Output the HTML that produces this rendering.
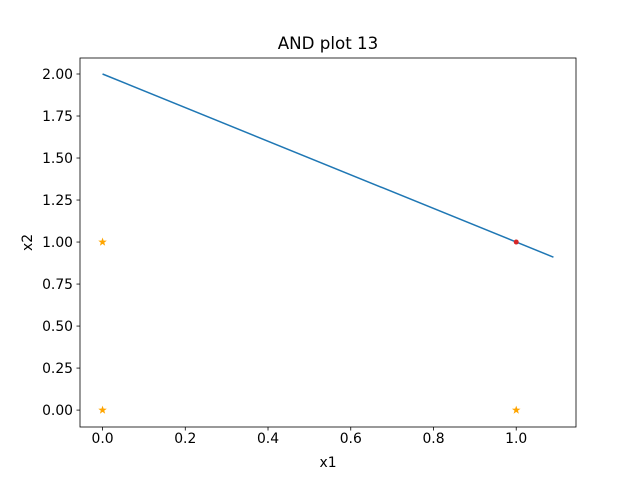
<!DOCTYPE html>
<html><head><meta charset="utf-8"><style>
body{margin:0;background:#fff;}
svg text{font-family:"DejaVu Sans","Liberation Sans",sans-serif;fill:#000;}
</style></head><body>
<svg id="chart" width="640" height="480" xmlns="http://www.w3.org/2000/svg">
<rect width="640" height="480" fill="#fff"/>
<g id="plot"></g>
</svg>
<script>
const xTicks=[0.0,0.2,0.4,0.6,0.8,1.0];
const yTicks=[0.00,0.25,0.50,0.75,1.00,1.25,1.50,1.75,2.00];
const lineX=[0,1.09];
const lineY=[2,0.91];
const starX=[0,0,1];
const starY=[0,1,0];
const redX=[1];
const redY=[1];
const L=80,R=576,T=58,B=427;
const xmin=-0.0545,xmax=1.1445,ymin=-0.1006,ymax=2.0952;
const sx=v=>L+(v-xmin)/(xmax-xmin)*(R-L);
const sy=v=>B-(v-ymin)/(ymax-ymin)*(B-T);
const NS="http://www.w3.org/2000/svg";
const g=document.getElementById('plot');
function mk(t,a,txt){const e=document.createElementNS(NS,t);for(const k in a)e.setAttribute(k,a[k]);if(txt!==undefined)e.textContent=txt;g.appendChild(e);return e;}
let pts=lineX.map((x,i)=>sx(x)+','+sy(lineY[i])).join(' ');
let ln=mk('polyline',{points:pts,fill:'none',stroke:'#1f77b4','stroke-width':1.5});


function star(cx,cy,r){let p=[];for(let i=0;i<10;i++){const rr=i%2?r*0.4:r;const a=-Math.PI/2+i*Math.PI/5;p.push((cx+rr*Math.cos(a)).toFixed(2)+','+(cy+rr*Math.sin(a)).toFixed(2));}return p.join(' ');}
starX.forEach((x,i)=>{const s=mk('polygon',{points:star(sx(x),sy(starY[i]),4.5),fill:'#ffa500'});

});
redX.forEach((x,i)=>{const c=mk('circle',{cx:sx(x),cy:sy(redY[i]),r:2.5,fill:'#d62728'});

});
const fr=mk('rect',{x:L,y:T,width:R-L,height:B-T,fill:'none',stroke:'#000','stroke-width':0.8});


xTicks.forEach(v=>{const x=sx(v);mk('line',{x1:x,x2:x,y1:B,y2:B+3.5,stroke:'#000','stroke-width':0.8});
const t=mk('text',{x:x,y:B+16,'text-anchor':'middle','font-size':13.9},v.toFixed(1));

});
yTicks.forEach(v=>{const y=sy(v);mk('line',{x1:L-3.5,x2:L,y1:y,y2:y,stroke:'#000','stroke-width':0.8});
const t=mk('text',{x:L-7,y:y+5,'text-anchor':'end','font-size':13.9},v.toFixed(2));

});
const tt=mk('text',{x:(L+R)/2,y:T-9,'text-anchor':'middle','font-size':16.7},'AND plot 13');


const xl=mk('text',{x:(L+R)/2,y:467,'text-anchor':'middle','font-size':13.9},'x1');


const yl=mk('text',{x:32,y:(T+B)/2,'text-anchor':'middle','font-size':13.9,transform:'rotate(-90 32 '+(T+B)/2+')'},'x2');


</script>
</body></html>
